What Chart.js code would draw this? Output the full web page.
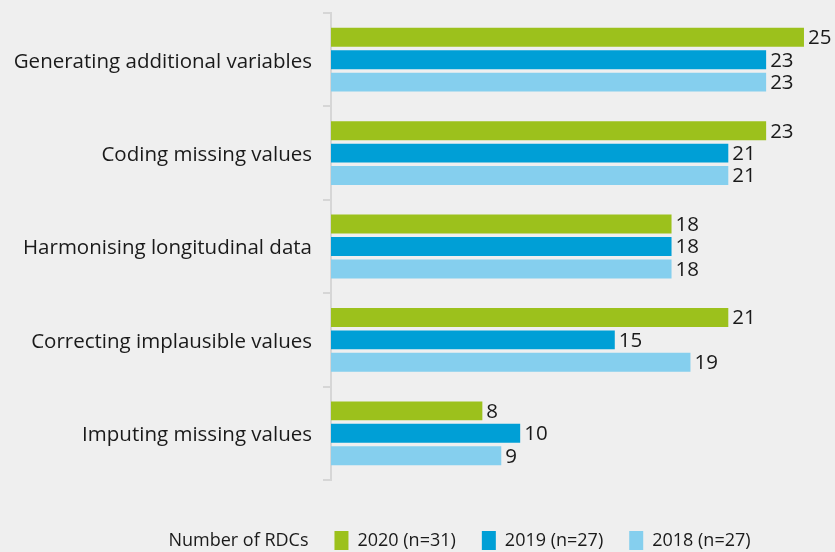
<!DOCTYPE html>
<html>
<head>
<meta charset="utf-8">
<script src="https://cdn.jsdelivr.net/npm/chart.js@4"></script>
<style>
  html, body { margin: 0; padding: 0; background: #efefef; }
  #wrap { width: 835px; height: 552px; }
</style>
</head>
<body>
<div id="wrap"><canvas id="chart" width="835" height="552"></canvas></div>
<script>
// Data
const categories = [
  "Generating additional variables",
  "Coding missing values",
  "Harmonising longitudinal data",
  "Correcting implausible values",
  "Imputing missing values"
];
const values2020 = [25, 23, 18, 21, 8];
const values2019 = [23, 21, 18, 15, 10];
const values2018 = [23, 21, 18, 19, 9];
const seriesLabels = ["2020 (n=31)", "2019 (n=27)", "2018 (n=27)"];
const legendTitle = "Number of RDCs";

const colors = ["#9cc11c", "#009fd6", "#85cfee"];
const fontFamily = "'Open Sans', 'Noto Sans', sans-serif";
const textColor = "#1a1a1a";

// Draw the value next to the end of each bar
const valueLabels = {
  id: "valueLabels",
  afterDatasetsDraw(chart) {
    const ctx = chart.ctx;
    ctx.save();
    ctx.font = "20.5px " + fontFamily;
    ctx.fillStyle = textColor;
    ctx.textAlign = "left";
    ctx.textBaseline = "middle";
    chart.data.datasets.forEach((ds, i) => {
      chart.getDatasetMeta(i).data.forEach((bar, j) => {
        ctx.fillText(ds.data[j], bar.x + 4, bar.y + 1);
      });
    });
    ctx.restore();
  }
};

// Nudge the legend row to the right, like the original
const legendShift = {
  id: "legendShift",
  afterLayout(chart) {
    chart.legend.left = 61;
  }
};

const ctx = document.getElementById("chart").getContext("2d");
new Chart(ctx, {
  type: "bar",
  data: {
    labels: categories,
    datasets: [
      { label: seriesLabels[0], data: values2020, backgroundColor: colors[0] },
      { label: seriesLabels[1], data: values2019, backgroundColor: colors[1] },
      { label: seriesLabels[2], data: values2018, backgroundColor: colors[2] }
    ]
  },
  options: {
    indexAxis: "y",
    responsive: false,
    animation: false,
    events: [],
    categoryPercentage: 0.72,
    barPercentage: 0.845,
    layout: { padding: { top: 13, right: 0, bottom: -8, left: 0 } },
    scales: {
      x: { display: false, min: 0, max: 26.64 },
      y: {
        afterFit(scale) {
          scale.width = 331;
          scale.paddingTop = 0;
          scale.paddingBottom = 0;
        },
        border: { display: true, color: "#d6d6d6", width: 2 },
        grid: { drawOnChartArea: false, drawTicks: true, tickLength: 8, color: "#d6d6d6", lineWidth: 2 },
        ticks: { color: textColor, padding: 11, labelOffset: 2, font: { family: fontFamily, size: 20.5 } }
      }
    },
    plugins: {
      tooltip: { enabled: false },
      legend: {
        position: "bottom",
        align: "center",
        title: { display: true, text: "", padding: 0, font: { size: 20, lineHeight: 1.25 } },
        labels: {
          boxWidth: 14,
          boxHeight: 19,
          padding: 26,
          color: textColor,
          font: { family: fontFamily, size: 18 },
          generateLabels(chart) {
            // first entry is the plain "Number of RDCs" text without a box
            const items = [{ text: legendTitle, fillStyle: "rgba(0,0,0,0)", strokeStyle: "rgba(0,0,0,0)", fontColor: textColor, lineWidth: 0, hidden: false }];
            chart.data.datasets.forEach((ds, i) => {
              items.push({ text: ds.label, fillStyle: ds.backgroundColor, strokeStyle: ds.backgroundColor, fontColor: textColor, lineWidth: 0, hidden: false, datasetIndex: i });
            });
            return items;
          }
        }
      }
    }
  },
  plugins: [valueLabels, legendShift]
});
</script>
</body>
</html>
